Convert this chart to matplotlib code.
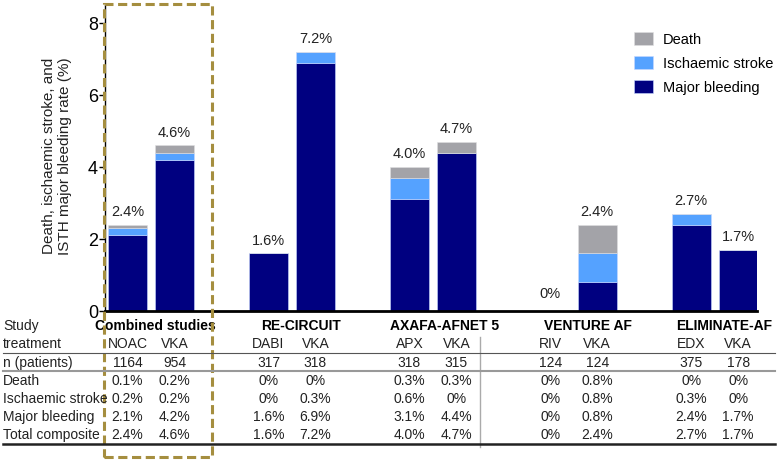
import matplotlib
matplotlib.use("Agg")
import matplotlib.pyplot as plt
from matplotlib import patches, transforms
from matplotlib.lines import Line2D

plt.rcParams['font.family'] = ['Liberation Sans', 'DejaVu Sans']

studies = ["Combined studies", "RE-CIRCUIT", "AXAFA-AFNET 5", "VENTURE AF", "ELIMINATE-AF"]
treatments = ["NOAC", "VKA", "DABI", "VKA", "APX", "VKA", "RIV", "VKA", "EDX", "VKA"]
n_patients = [1164, 954, 317, 318, 318, 315, 124, 124, 375, 178]
death = [0.1, 0.2, 0, 0, 0.3, 0.3, 0, 0.8, 0, 0]
stroke = [0.2, 0.2, 0, 0.3, 0.6, 0, 0, 0.8, 0.3, 0]
bleeding = [2.1, 4.2, 1.6, 6.9, 3.1, 4.4, 0, 0.8, 2.4, 1.7]
total = [2.4, 4.6, 1.6, 7.2, 4.0, 4.7, 0, 2.4, 2.7, 1.7]

c_death = '#a3a3a8'
c_stroke = '#55a2ff'
c_bleed = '#000080'


def pct(v):
    return "0%" if v == 0 else f"{v:.1f}%"


fig = plt.figure(figsize=(7.8, 4.62), dpi=100)
ax = fig.add_axes([105 / 780, 151 / 462, 652 / 780, 306 / 462])

# two bars per study, studies spaced 3 units apart
xs = [3 * (i // 2) + (i % 2) for i in range(len(treatments))]
w = 0.83
bottom2 = [b + s for b, s in zip(bleeding, stroke)]
ax.bar(xs, bleeding, w, color=c_bleed, edgecolor='#c8d8ff', linewidth=0.4, label='Major bleeding')
ax.bar(xs, stroke, w, bottom=bleeding, color=c_stroke, edgecolor='#c8d8ff', linewidth=0.4,
       label='Ischaemic stroke')
ax.bar(xs, death, w, bottom=bottom2, color=c_death, edgecolor='#e0e0e0', linewidth=0.4, label='Death')

for x, t in zip(xs, total):
    ax.annotate(pct(t), (x, t), xytext=(0, 4 if t > 0 else 7), textcoords='offset points',
                ha='center', va='bottom', fontsize=10.5, color='#222222')

ax.set_xlim(-0.48, 13.4)
ax.set_ylim(0, 8.5)
ax.set_yticks([0, 2, 4, 6, 8])
ax.tick_params(axis='y', labelsize=13, length=4, width=1, pad=1)
ax.set_xticks([])
for s in ['top', 'right']:
    ax.spines[s].set_visible(False)
ax.spines['bottom'].set_linewidth(2)
ax.spines['left'].set_linewidth(1)

fig.text(57 / 780, 1 - 156 / 462, "Death, ischaemic stroke, and\nISTH major bleeding rate (%)",
         rotation=90, ha='center', va='center', fontsize=11, multialignment='center',
         color='#222222', linespacing=1.1)

h, l = ax.get_legend_handles_labels()
fig.legend(h[::-1], l[::-1], loc='upper left', bbox_to_anchor=(634 / 780, 1 - 32 / 462),
           frameon=False, fontsize=10.5, handlelength=1.3, handleheight=1.0, labelspacing=0.65,
           handletextpad=0.7, borderpad=0, borderaxespad=0)

# table under the chart
tr = transforms.blended_transform_factory(ax.transData, fig.transFigure)


def fy(py):
    return 1 - py / 462


row_labels = ["Study", "treatment", "n (patients)", "Death", "Ischaemic stroke",
              "Major bleeding", "Total composite"]
row_y = [326, 344, 363, 381, 399, 417, 435]
for lab, y in zip(row_labels, row_y):
    fig.text(3 / 780, fy(y), lab, ha='left', va='center', fontsize=10, color='#222222')

head_off = [0.1, 0.2, 0.25, 0.3, 0.2]
for i, st in enumerate(studies):
    ax.text(3 * i + 0.5 + head_off[i], fy(row_y[0]), st, transform=tr, ha='center', va='center',
            fontsize=10, fontweight='bold')

rows = [treatments, [str(n) for n in n_patients], [pct(v) for v in death],
        [pct(v) for v in stroke], [pct(v) for v in bleeding], [pct(v) for v in total]]
for vals, y in zip(rows, row_y[1:]):
    for x, v in zip(xs, vals):
        ax.text(x, fy(y), v, transform=tr, ha='center', va='center', fontsize=10, color='#222222')

fig.add_artist(Line2D([3 / 780, 775 / 780], [fy(353)] * 2, color='#555555', lw=0.8))
fig.add_artist(Line2D([3 / 780, 775 / 780], [fy(371)] * 2, color='#999999', lw=1.5))
fig.add_artist(Line2D([3 / 780, 775 / 780], [fy(444)] * 2, color='#222222', lw=1.8))
ax.add_artist(Line2D([7.5, 7.5], [fy(337), fy(447)], transform=tr, color='#aaaaaa', lw=1,
                     clip_on=False))

# dashed highlight around the combined studies
fig.add_artist(patches.Rectangle((104 / 780, fy(457)), 108 / 780, 453 / 462, fill=False,
                                 edgecolor='#a58e3f', lw=2.2, linestyle=(0, (3, 1.5)),
                                 transform=fig.transFigure))

fig.savefig("out.png", dpi=100)
